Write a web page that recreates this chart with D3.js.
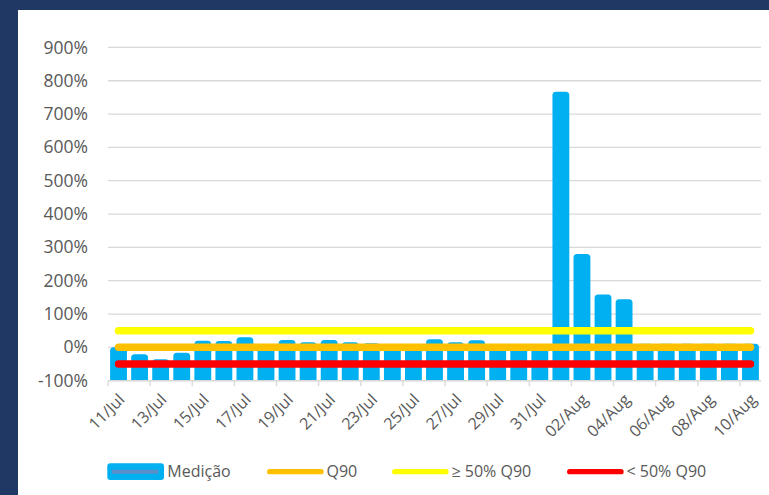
<!DOCTYPE html>
<html>
<head>
<meta charset="utf-8">
<script src="https://cdn.jsdelivr.net/npm/d3@7/dist/d3.min.js"></script>
<style>
  html, body { margin: 0; padding: 0; background: #1F3864; }
  svg { display: block; }
  text { font-family: "Open Sans", sans-serif; fill: #595959; }
</style>
</head>
<body>
<svg id="chart" width="769" height="495"></svg>
<script>
const categories = ["11/Jul","12/Jul","13/Jul","14/Jul","15/Jul","16/Jul","17/Jul","18/Jul","19/Jul","20/Jul",
  "21/Jul","22/Jul","23/Jul","24/Jul","25/Jul","26/Jul","27/Jul","28/Jul","29/Jul","30/Jul","31/Jul",
  "01/Aug","02/Aug","03/Aug","04/Aug","05/Aug","06/Aug","07/Aug","08/Aug","09/Aug","10/Aug"];
const medicao = [0, -21, -36, -16, 20, 19, 30, 5, 22, 15,
  22, 15, 12, 5, 5, 24, 15, 21, 5, 5, 5,
  767, 280, 159, 144, 11, 11, 11, 11, 11, 11];
const q90 =    [0,0,0,0,0,0,0,0,0,0,0,0,0,0,0,0,0,0,0,0,0,0,0,0,0,0,0,0,0,0,0];
const ge50q90 = [50,50,50,50,50,50,50,50,50,50,50,50,50,50,50,50,50,50,50,50,50,50,50,50,50,50,50,50,50,50,50];
const lt50q90 = [-50,-50,-50,-50,-50,-50,-50,-50,-50,-50,-50,-50,-50,-50,-50,-50,-50,-50,-50,-50,-50,-50,-50,-50,-50,-50,-50,-50,-50,-50,-50];
const yTicks = [-100, 0, 100, 200, 300, 400, 500, 600, 700, 800, 900];
const seriesNames = ["Medição", "Q90", "≥ 50% Q90", "< 50% Q90"];
const seriesColors = ["#00B0F0", "#FFC000", "#FFFF00", "#FF0000"];

const svg = d3.select("#chart");
svg.append("rect").attr("width", 769).attr("height", 495).attr("fill", "#1F3864");
svg.append("rect").attr("x", 18).attr("y", 10).attr("width", 751).attr("height", 485).attr("fill", "#FFFFFF");

const x = d3.scaleBand().domain(categories).range([108, 761]).paddingInner(0.2).paddingOuter(0.1);
const y = d3.scaleLinear().domain([-100, 900]).range([380.7, 47.4]);

// gridlines
svg.append("g").selectAll("line").data(yTicks).join("line")
  .attr("x1", 108).attr("x2", 761)
  .attr("y1", d => y(d)).attr("y2", d => y(d))
  .attr("stroke", "#D9D9D9").attr("stroke-width", 1.3);

// y labels
const yAxis = d3.axisLeft(y).tickValues(yTicks).tickSize(0).tickPadding(0).tickFormat(d => d + "%");
const yg = svg.append("g").attr("transform", "translate(88,0)").call(yAxis);
yg.select(".domain").remove();
yg.selectAll("text").attr("font-size", 17.5).attr("font-family", "Open Sans").attr("fill", "#666666");

// bars with rounded top
function barPath(x0, yTop, w, yBot, r) {
  r = Math.min(r, w / 2, (yBot - yTop));
  return `M${x0},${yBot}V${yTop + r}Q${x0},${yTop} ${x0 + r},${yTop}H${x0 + w - r}Q${x0 + w},${yTop} ${x0 + w},${yTop + r}V${yBot}Z`;
}
svg.append("g").selectAll("path").data(categories).join("path")
  .attr("d", (c, i) => barPath(x(c), y(medicao[i]), x.bandwidth(), y(-100), 3.5))
  .attr("fill", "#00B0F0");

// x axis line + ticks
svg.append("line").attr("x1", 108).attr("x2", 761).attr("y1", y(-100)).attr("y2", y(-100))
  .attr("stroke", "#D9D9D9").attr("stroke-width", 1.5);
const tickCats = categories.filter((c, i) => i % 2 === 0);
svg.append("g").selectAll("line").data(tickCats).join("line")
  .attr("x1", c => x(c) - x.step() * x.paddingInner() / 2)
  .attr("x2", c => x(c) - x.step() * x.paddingInner() / 2)
  .attr("y1", y(-100)).attr("y2", y(-100) + 5.5)
  .attr("stroke", "#D9D9D9").attr("stroke-width", 1.3);

// x labels
svg.append("g").selectAll("text").data(tickCats).join("text")
  .attr("transform", c => `translate(${x(c) + x.bandwidth() / 2 + 7},${y(-100) + 20}) rotate(-45)`)
  .attr("text-anchor", "end")
  .attr("font-size", 16)
  .text(c => c);

// threshold lines
const line = d3.line().x((d, i) => x(categories[i]) + x.bandwidth() / 2).y(d => y(d));
[[ge50q90, "#FFFF00"], [q90, "#FFC000"], [lt50q90, "#FF0000"]].forEach(([data, col]) => {
  svg.append("path").datum(data).attr("d", line)
    .attr("fill", "none").attr("stroke", col).attr("stroke-width", 7.5).attr("stroke-linecap", "round");
});

// legend
const legY = 471.7;
const legItems = [
  { sx: 107.3, tx: 167.3 },
  { sx: 267, tx: 326.5 },
  { sx: 392, tx: 451.5 },
  { sx: 567, tx: 626.5 }
];
const lg = svg.append("g");
legItems.forEach((it, i) => {
  if (i === 0) {
    lg.append("rect").attr("x", it.sx).attr("y", legY - 8.4).attr("width", 56.7).attr("height", 16.8)
      .attr("rx", 3).attr("fill", seriesColors[0]);
    lg.append("line").attr("x1", it.sx + 4.4).attr("x2", it.sx + 51).attr("y1", legY).attr("y2", legY)
      .attr("stroke", "#5B8FC9").attr("stroke-width", 4);
  } else {
    lg.append("line").attr("x1", it.sx + 2.7).attr("x2", it.sx + 54).attr("y1", legY).attr("y2", legY)
      .attr("stroke", seriesColors[i]).attr("stroke-width", 5.3).attr("stroke-linecap", "round");
  }
  lg.append("text").attr("x", it.tx).attr("y", legY).attr("dy", "0.36em")
    .attr("font-size", 16).text(seriesNames[i]);
});
</script>
</body>
</html>
